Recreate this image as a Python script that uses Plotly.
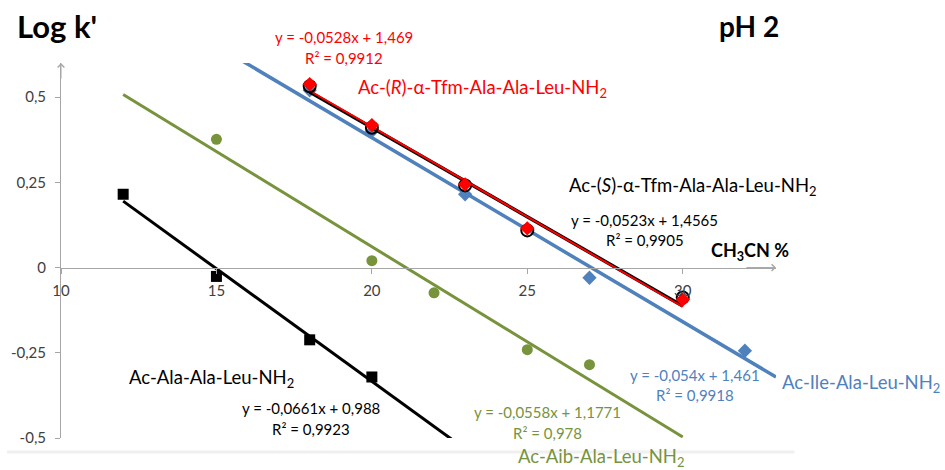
import plotly.graph_objects as go

# ---------------- data ----------------
x_ala = [12, 15, 18, 20]
y_ala = [0.215, -0.026, -0.212, -0.321]

x_aib = [15, 20, 22, 25, 27]
y_aib = [0.376, 0.020, -0.074, -0.241, -0.285]

x_ile = [18, 20, 23, 27, 32]
y_ile = [0.520, 0.400, 0.215, -0.030, -0.244]

x_s = [18, 20, 23, 25, 30]
y_s = [0.532, 0.410, 0.241, 0.109, -0.088]

x_r = [18, 20, 23, 25, 30]
y_r = [0.538, 0.418, 0.244, 0.115, -0.094]

# trendline coefficients (slope, intercept) and x extents
fit_ala = (-0.0661, 0.988, 12, 23)
fit_aib = (-0.0558, 1.1771, 12, 30)
fit_ile = (-0.054, 1.461, 15, 33)
fit_s = (-0.0523, 1.4565, 18, 30)
fit_r = (-0.0528, 1.469, 18, 30)

y_tickvals = [-0.5, -0.25, 0, 0.25, 0.5]
y_ticktext = ["-0,5", "-0,25", "0", "0,25", "0,5"]
x_tickvals = [10, 15, 20, 25, 30]
x_ticktext = ["10", "15", "20", "25", "30"]

BLACK = "#000000"
GREEN = "#77933C"
BLUE = "#4F81BD"
RED = "#FF0000"
AXIS = "#A6A6A6"
FONT = "Lato"

# geometry (pixels)
W, H = 945, 470
L, R, T, B = 61, 168.5, 63, 32
pw, ph = W - L - R, H - T - B


def px(p):
    return (p - L) / pw


def py(p):
    return (H - B - p) / ph


def fit_line(fit):
    m, c, x0, x1 = fit
    return [x0, x1], [m * x0 + c, m * x1 + c]


fig = go.Figure()

# Blue series
lx, ly = fit_line(fit_ile)
fig.add_trace(go.Scatter(x=lx, y=ly, mode="lines", line=dict(color=BLUE, width=3.5), hoverinfo="skip"))
fig.add_trace(go.Scatter(x=x_ile, y=y_ile, mode="markers",
                         marker=dict(symbol="diamond", size=11, color=BLUE)))

# Green series
lx, ly = fit_line(fit_aib)
fig.add_trace(go.Scatter(x=lx, y=ly, mode="lines", line=dict(color=GREEN, width=3), hoverinfo="skip"))
fig.add_trace(go.Scatter(x=x_aib, y=y_aib, mode="markers",
                         marker=dict(symbol="circle", size=11, color=GREEN)))

# Black squares series
lx, ly = fit_line(fit_ala)
fig.add_trace(go.Scatter(x=lx, y=ly, mode="lines", line=dict(color=BLACK, width=3), hoverinfo="skip"))
fig.add_trace(go.Scatter(x=x_ala, y=y_ala, mode="markers",
                         marker=dict(symbol="square", size=11, color=BLACK)))

# S series (black open circles)
lx, ly = fit_line(fit_s)
fig.add_trace(go.Scatter(x=lx, y=ly, mode="lines", line=dict(color=BLACK, width=3.5), hoverinfo="skip"))
# R series (red diamonds)
lx, ly = fit_line(fit_r)
fig.add_trace(go.Scatter(x=lx, y=ly, mode="lines", line=dict(color=RED, width=2), hoverinfo="skip"))
fig.add_trace(go.Scatter(x=x_s, y=y_s, mode="markers",
                         marker=dict(symbol="circle-open", size=12, color=BLACK, line=dict(width=2, color=BLACK))))
fig.add_trace(go.Scatter(x=x_r, y=y_r, mode="markers",
                         marker=dict(symbol="diamond", size=11, color=RED)))

ann = []


def text(s, x, y, color=BLACK, size=15, anchor="center", bold=False):
    if bold:
        s = "<b>" + s + "</b>"
    ann.append(dict(text=s, x=px(x), y=py(y), xref="paper", yref="paper",
                    xanchor=anchor, yanchor="middle", showarrow=False,
                    font=dict(family=FONT, size=size, color=color)))


LBL = 18.5
text("Log k'", 15, 26, size=31, anchor="left", bold=True)
text("pH 2", 717, 26, size=28, anchor="left", bold=True)
text("CH<sub>3</sub>CN %", 709, 251, size=18, anchor="left", bold=True)

text("y = -0,0528x + 1,469", 344, 37, RED)
text("R² = 0,9912", 344, 58, RED)
text("Ac-(<i>R</i>)-α-Tfm-Ala-Ala-Leu-NH<sub>2</sub>", 356, 88, RED, size=LBL, anchor="left")

text("Ac-(<i>S</i>)-α-Tfm-Ala-Ala-Leu-NH<sub>2</sub>", 567, 186, BLACK, size=LBL, anchor="left")
text("y = -0,0523x + 1,4565", 645, 220)
text("R² = 0,9905", 645, 240)

text("y = -0,054x + 1,461", 695, 375, BLUE)
text("R² = 0,9918", 695, 395, BLUE)
text("Ac-Ile-Ala-Leu-NH<sub>2</sub>", 781, 383, BLUE, size=LBL, anchor="left")

text("y = -0,0558x + 1,1771", 548, 412, GREEN)
text("R² = 0,978", 548, 433, GREEN)
text("Ac-Aib-Ala-Leu-NH<sub>2</sub>", 516, 457, GREEN, size=LBL, anchor="left")

text("Ac-Ala-Ala-Leu-NH<sub>2</sub>", 127, 378, BLACK, size=LBL, anchor="left")
text("y = -0,0661x + 0,988", 311, 408)
text("R² = 0,9923", 311, 429)

# axis arrows
ann.append(dict(x=10, y=0.6, ax=10, ay=0.55, xref="x", yref="y", axref="x", ayref="y",
                text="", showarrow=True, arrowhead=4, arrowsize=1.3, arrowwidth=1, arrowcolor=AXIS))
ann.append(dict(x=33, y=0, ax=32, ay=0, xref="x", yref="y", axref="x", ayref="y",
                text="", showarrow=True, arrowhead=4, arrowsize=1.3, arrowwidth=1, arrowcolor=AXIS))

fig.update_layout(
    width=W, height=H,
    margin=dict(l=L, r=R, t=T, b=B),
    paper_bgcolor="white", plot_bgcolor="white",
    showlegend=False,
    font=dict(family=FONT, size=15, color="#404040"),
    annotations=ann,
    shapes=[dict(type="line", xref="paper", yref="paper", x0=px(7), x1=px(795), y0=py(452), y1=py(452),
                 line=dict(color="#F0F0F0", width=3))],
    xaxis=dict(range=[10, 33], tickvals=x_tickvals, ticktext=x_ticktext,
               showgrid=False, zeroline=False, showline=True, linecolor=AXIS, linewidth=1,
               ticks="outside", ticklen=5, tickcolor=AXIS,
               anchor="free", position=0.5 / 1.1, ticklabelstandoff=4,
               tickfont=dict(family=FONT, size=15, color="#404040")),
    yaxis=dict(range=[-0.5, 0.6], tickvals=y_tickvals, ticktext=y_ticktext,
               showgrid=False, zeroline=False, showline=True, linecolor=AXIS, linewidth=1,
               ticks="outside", ticklen=5, tickcolor=AXIS, ticklabelstandoff=6,
               tickfont=dict(family=FONT, size=15, color="#404040")),
)

fig.write_html("out.html", config={"displayModeBar": False},
               post_script="document.body.style.margin='0px';document.body.style.overflow='hidden';")
